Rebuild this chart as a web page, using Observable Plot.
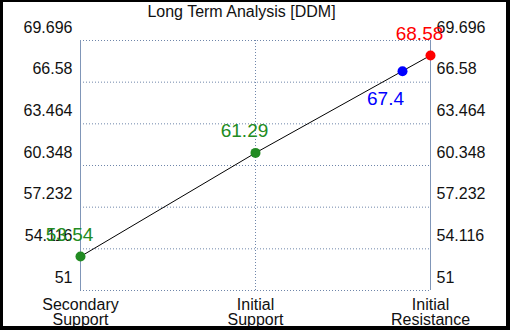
<!DOCTYPE html>
<html><head><meta charset="utf-8">
<script src="https://cdn.jsdelivr.net/npm/d3@7"></script>
<script src="https://cdn.jsdelivr.net/npm/@observablehq/plot@0.6"></script>
<style>
html,body{margin:0;padding:0;background:#fff;}
#frame{width:510px;height:330px;box-sizing:border-box;border-style:solid;border-color:#000;border-width:2px 4px 4px 3px;background:#fff;overflow:hidden;}
#frame svg{display:block;}
</style></head><body><div id="frame"></div>
<script>
const title = "Long Term Analysis [DDM]";
const categories = ["Secondary\nSupport", "Initial\nSupport", "Initial\nResistance"];
const categoryPos = [0, 1, 2];
const levels = [53.54, 61.29, 68.58];
const levelColors = ["#228b22", "#228b22", "#ff0000"];
const currentPos = 1.84;
const currentValue = 67.4;
const yTicks = [51, 54.116, 57.232, 60.348, 63.464, 66.58, 69.696];
const yTickLabels = ["51", "54.116", "57.232", "60.348", "63.464", "66.58", "69.696"];

const pts = levels.map((v, i) => ({x: categoryPos[i], y: v, c: levelColors[i], label: String(v)}));
const cur = [{x: currentPos, y: currentValue, c: "#0000ff", label: String(currentValue)}];
const grid = "#6f86aa";

const chart = Plot.plot({
  width: 503, height: 324,
  marginLeft: 77, marginRight: 76, marginTop: 38, marginBottom: 36,
  style: {fontFamily: "'Liberation Sans', Arial, sans-serif", fontSize: "16px", color: "#000", background: "#fff", overflow: "visible"},
  x: {type: "linear", domain: [0, 2], axis: null},
  y: {domain: [51, 69.696], axis: null},
  marks: [
    Plot.ruleY(yTicks, {stroke: grid, strokeDasharray: "1,2", strokeOpacity: 1}),
    Plot.ruleX([1], {stroke: grid, strokeDasharray: "1,2"}),
    Plot.ruleX([0, 2], {stroke: "#8096b8", strokeWidth: 1}),
    Plot.axisY(yTicks, {anchor: "left", label: null, tickSize: 0, tickPadding: 8, dy: -13, tickFormat: d => yTickLabels[yTicks.indexOf(d)], fill: "#111"}),
    Plot.axisY(yTicks, {anchor: "right", label: null, tickSize: 0, tickPadding: 6, dy: -13, tickFormat: d => yTickLabels[yTicks.indexOf(d)], fill: "#111"}),
    Plot.axisX(categoryPos, {anchor: "bottom", label: null, tickSize: 0, tickPadding: 9, lineHeight: 0.94, tickFormat: i => categories[i], fill: "#111"}),
    Plot.line(pts, {x: "x", y: "y", stroke: "#000", strokeWidth: 1}),
    Plot.dot(pts, {x: "x", y: "y", r: 5, fill: "c", stroke: "none"}),
    Plot.dot(cur, {x: "x", y: "y", r: 5, fill: "c", stroke: "none"}),
    Plot.text(pts, {x: "x", y: "y", text: "label", fill: "c", fontSize: 19, dx: -11, dy: -22}),
    Plot.text(cur, {x: "x", y: "y", text: "label", fill: "c", fontSize: 19, dx: -17, dy: 28}),
    Plot.text([title], {frameAnchor: "top", lineAnchor: "middle", text: d => d, dx: -14, dy: -29, fontSize: 16, fill: "#111"})
  ]
});
document.getElementById("frame").appendChild(chart);
</script>
</body></html>
